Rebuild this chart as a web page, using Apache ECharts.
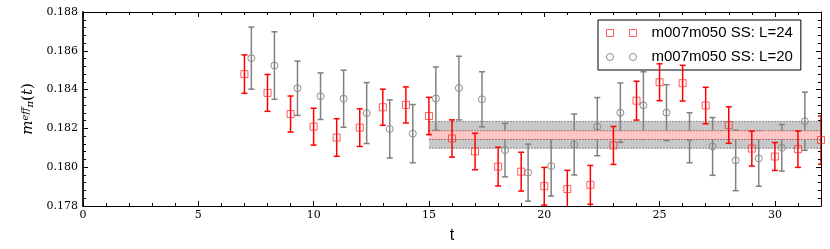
<!DOCTYPE html>
<html>
<head>
<meta charset="utf-8">
<script src="https://cdn.jsdelivr.net/npm/echarts@6/dist/echarts.min.js"></script>
<style>html,body{margin:0;padding:0;background:#fff}#c{width:830px;height:249px}</style>
</head>
<body>
<div id="c"></div>
<script>
// ---- data ----
const redName = 'm007m050 SS: L=24';
const grayName = 'm007m050 SS: L=20';
const redT = [7,8,9,10,11,12,13,14,15,16,17,18,19,20,21,22,23,24,25,26,27,28,29,30,31,32];
const redV = [0.1848,0.18383,0.18274,0.18209,0.18153,0.18204,0.18309,0.18321,0.18264,0.18148,0.18081,0.18003,0.17977,0.17902,0.17887,0.17909,0.18112,0.18343,0.18438,0.18433,0.18318,0.18217,0.18096,0.18055,0.18093,0.1814];
const redErr = [0.00099,0.00095,0.00093,0.00095,0.00097,0.00097,0.00093,0.00093,0.00096,0.00096,0.00094,0.001,0.001,0.00097,0.00097,0.001,0.00098,0.001,0.00095,0.00092,0.00094,0.00094,0.0009,0.00072,0.00094,0.00125];
const grayT = [7.3,8.3,9.3,10.3,11.3,12.3,13.3,14.3,15.3,16.3,17.3,18.3,19.3,20.3,21.3,22.3,23.3,24.3,25.3,26.3,27.3,28.3,29.3,30.3,31.3];
const grayV = [0.18562,0.18524,0.18407,0.18366,0.18353,0.18279,0.18197,0.18173,0.18354,0.18408,0.1835,0.18088,0.17972,0.18006,0.18117,0.18209,0.18281,0.18319,0.18281,0.18152,0.18107,0.18035,0.18045,0.181,0.18237];
const grayErr = [0.0016,0.00174,0.0014,0.0012,0.00147,0.00157,0.0015,0.0015,0.00163,0.00164,0.00142,0.00138,0.00147,0.00155,0.00157,0.0015,0.00153,0.00173,0.00144,0.00129,0.00149,0.00156,0.00143,0.0012,0.0015];
const bandT = [15, 32];
const grayBand = [0.18098, 0.18236];
const redBand = [0.18143, 0.18188];
const xTicks = [0, 5, 10, 15, 20, 25, 30];
const yTicks = [0.178, 0.180, 0.182, 0.184, 0.186, 0.188];

// ---- styles ----
const RED = '#ff0000';
const RED_MK = 'rgba(255,40,40,0.75)';
const GRAY = '#808080';
const GRAY_MK = '#8c8c8c';
const serif = "'DejaVu Serif', 'Liberation Serif', serif";
const sans = "'Liberation Sans', 'DejaVu Sans', sans-serif";

const chart = echarts.init(document.getElementById('c'), null, {renderer: 'canvas'});

function errRender(color) {
  return function (params, api) {
    const x = api.value(0), y = api.value(1), e = api.value(2);
    const top = api.coord([x, y + e]);
    const bot = api.coord([x, y - e]);
    const cw = 3;
    const st = {stroke: color, lineWidth: 1.5};
    return {type: 'group', children: [
      {type: 'line', shape: {x1: top[0], y1: top[1], x2: bot[0], y2: bot[1]}, style: st},
      {type: 'line', shape: {x1: top[0] - cw, y1: top[1], x2: top[0] + cw, y2: top[1]}, style: st},
      {type: 'line', shape: {x1: bot[0] - cw, y1: bot[1], x2: bot[0] + cw, y2: bot[1]}, style: st}
    ]};
  };
}
function bandRender(fill, edge) {
  return function (params, api) {
    const p1 = api.coord([api.value(0), api.value(3)]);
    const p2 = api.coord([api.value(1), api.value(2)]);
    const es = {stroke: edge, lineWidth: 1, lineDash: [2, 1]};
    return {type: 'group', children: [
      {type: 'rect', shape: {x: p1[0], y: p1[1], width: p2[0] - p1[0], height: p2[1] - p1[1]}, style: {fill: fill}},
      {type: 'line', shape: {x1: p1[0], y1: p1[1], x2: p2[0], y2: p1[1]}, style: es},
      {type: 'line', shape: {x1: p1[0], y1: p2[1], x2: p2[0], y2: p2[1]}, style: es}
    ]};
  };
}

const redErrData = redT.map((t, i) => [t, redV[i], redErr[i]]);
const grayErrData = grayT.map((t, i) => [t, grayV[i], grayErr[i]]);
const redPts = redT.map((t, i) => [t, redV[i]]);
const grayPts = grayT.map((t, i) => [t, grayV[i]]);

const axisCommon = {
  type: 'value',
  axisLine: {show: true, onZero: false, lineStyle: {color: '#000', width: 1}},
  axisTick: {show: true, inside: true, length: 5, lineStyle: {color: '#000', width: 1}},
  minorTick: {show: true, splitNumber: 5, length: 3, lineStyle: {color: '#000', width: 1}},
  splitLine: {show: false}
};

const option = {
  animation: false,
  backgroundColor: '#fff',
  grid: {left: 83, right: 9, top: 12, bottom: 38, containLabel: false},
  xAxis: [
    Object.assign({}, axisCommon, {
      min: 0, max: 32, interval: 5, position: 'bottom',
      name: 't', nameLocation: 'middle', nameGap: 22,
      nameTextStyle: {fontFamily: sans, fontSize: 16, color: '#000'},
      axisLabel: {show: true, margin: 4, fontFamily: serif, fontSize: 11, color: '#000', showMaxLabel: false,
        formatter: v => (xTicks.indexOf(v) >= 0 ? String(v) : '')}
    }),
    Object.assign({}, axisCommon, {
      min: 0, max: 32, interval: 5, position: 'top', axisLabel: {show: false}
    })
  ],
  yAxis: [
    Object.assign({}, axisCommon, {
      min: 0.178, max: 0.188, interval: 0.002, position: 'left',
      axisLine: {show: true, onZero: false, lineStyle: {color: '#222', width: 2}},
      name: '{i|m}{sup|eff}{sub|π}{r|(}{i|t}{r|)}', nameLocation: 'middle', nameGap: 46, nameRotate: 90,
      nameTextStyle: {color: '#000', rich: {
        i: {fontFamily: serif, fontStyle: 'italic', fontSize: 15, color: '#000'},
        r: {fontFamily: serif, fontSize: 15, color: '#000'},
        sup: {fontFamily: serif, fontStyle: 'italic', fontSize: 10, verticalAlign: 'top', color: '#000'},
        sub: {fontFamily: serif, fontStyle: 'italic', fontSize: 10, verticalAlign: 'bottom', color: '#000'}
      }},
      axisLabel: {show: true, margin: 5, fontFamily: serif, fontSize: 11, color: '#000',
        formatter: v => {
          const hit = yTicks.find(t => Math.abs(t - v) < 1e-9);
          return hit !== undefined ? hit.toFixed(3) : '';
        }}
    }),
    Object.assign({}, axisCommon, {
      min: 0.178, max: 0.188, interval: 0.002, position: 'right', axisLabel: {show: false}
    })
  ],
  legend: {
    orient: 'vertical', left: 598, top: 20,
    padding: [4, 8, 4, 8], itemGap: 6, itemWidth: 30, itemHeight: 7,
    backgroundColor: '#fff', borderColor: '#000', borderWidth: 1, borderRadius: 0,
    textStyle: {fontFamily: sans, fontSize: 15, color: '#000', lineHeight: 18, padding: [0, 0, 0, 10]},
    data: [
      {name: redName, icon: 'path://M0,0H7V7H0Z M23,0H30V7H23Z',
        itemStyle: {color: 'rgba(0,0,0,0)', borderColor: RED_MK, borderWidth: 1}},
      {name: grayName, icon: 'path://M0,3.5A3.5,3.5 0 1 1 7,3.5A3.5,3.5 0 1 1 0,3.5Z M23,3.5A3.5,3.5 0 1 1 30,3.5A3.5,3.5 0 1 1 23,3.5Z',
        itemStyle: {color: 'rgba(0,0,0,0)', borderColor: GRAY_MK, borderWidth: 1}}
    ]
  },
  series: [
    {type: 'custom', name: 'grayBand', silent: true, z: 1, clip: true,
      renderItem: bandRender('#c8c8c8', '#8a8a8a'),
      data: [[bandT[0], bandT[1], grayBand[0], grayBand[1]]]},
    {type: 'custom', name: 'grayErr', silent: true, z: 2, clip: true,
      renderItem: errRender(GRAY), data: grayErrData},
    {type: 'scatter', name: grayName, z: 3, symbol: 'circle', symbolSize: 7, clip: true,
      itemStyle: {color: 'rgba(0,0,0,0)', borderColor: GRAY_MK, borderWidth: 1, opacity: 1},
      data: grayPts},
    {type: 'custom', name: 'redBand', silent: true, z: 4, clip: true,
      renderItem: bandRender('#ffc6c6', '#a07070'),
      data: [[bandT[0], bandT[1], redBand[0], redBand[1]]]},
    {type: 'custom', name: 'redErr', silent: true, z: 5, clip: true,
      renderItem: errRender(RED), data: redErrData},
    {type: 'scatter', name: redName, z: 6, symbol: 'rect', symbolSize: 7, clip: true,
      itemStyle: {color: 'rgba(0,0,0,0)', borderColor: RED_MK, borderWidth: 1, opacity: 1},
      data: redPts}
  ]
};
chart.setOption(option);
</script>
</body>
</html>
